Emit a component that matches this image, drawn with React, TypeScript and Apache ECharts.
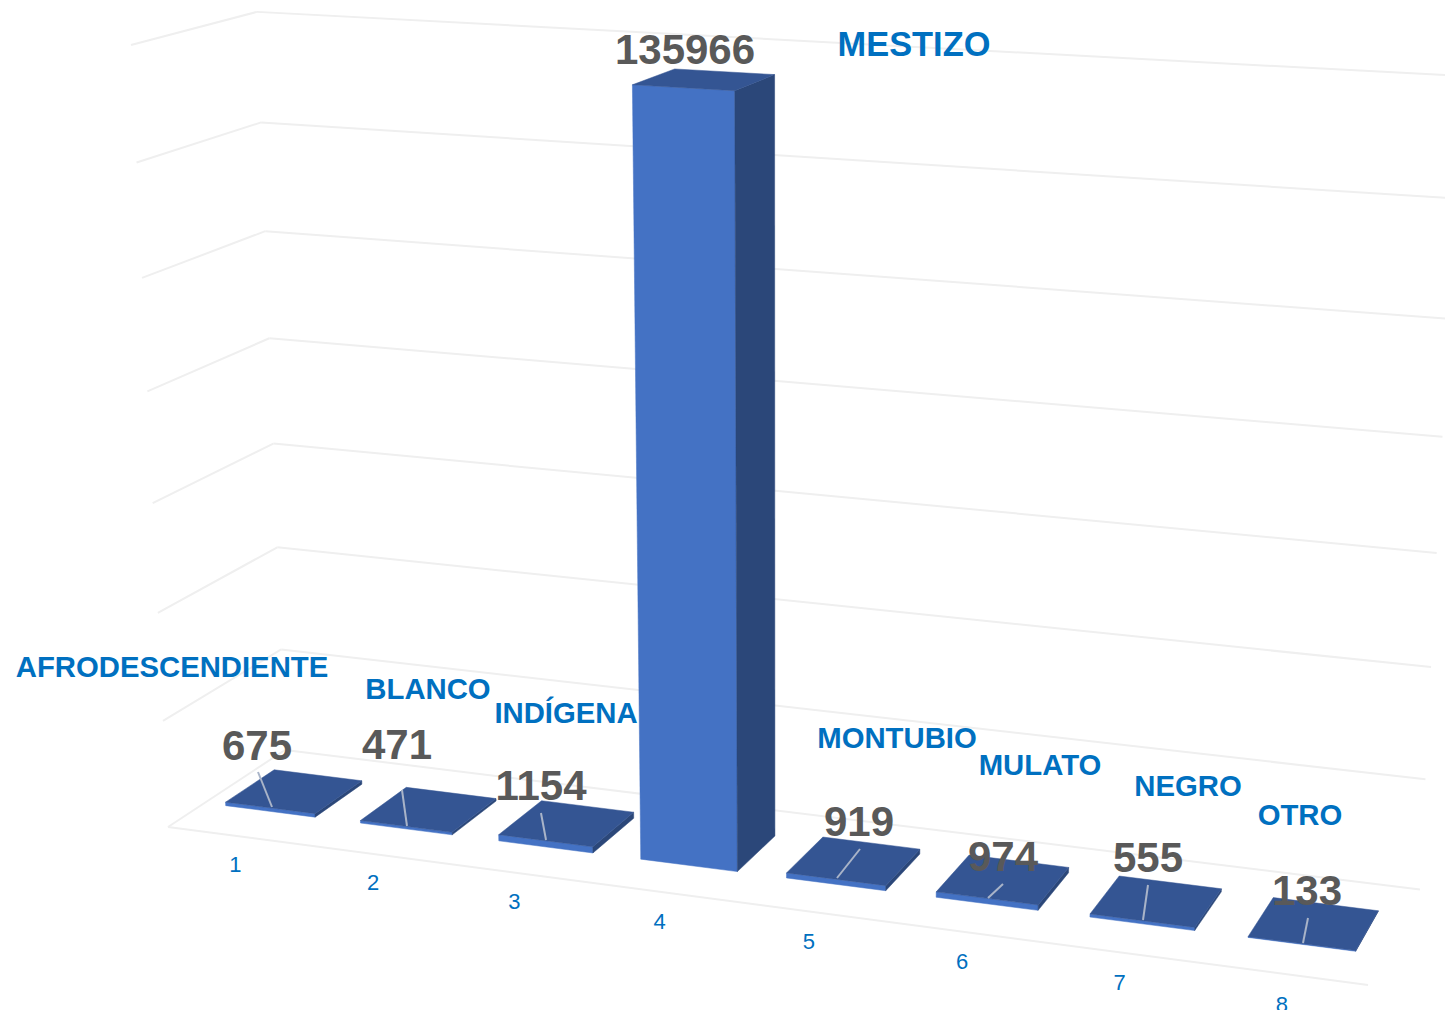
import React, { useEffect, useRef } from "react";
import * as echarts from "echarts";

const categories = ["1", "2", "3", "4", "5", "6", "7", "8"];
const groupNames = ["AFRODESCENDIENTE", "BLANCO", "INDÍGENA", "MESTIZO", "MONTUBIO", "MULATO", "NEGRO", "OTRO"];
const counts = [675, 471, 1154, 135966, 919, 974, 555, 133];
const gridTicks = [0, 20000, 40000, 60000, 80000, 100000, 120000, 140000];

// Text placement (centres in page pixels)
const nameAnchors = [[172, 666], [428, 688], [566, 712], [914, 44], [897, 737], [1040, 764], [1188, 785], [1300, 814]];
const valueAnchors = [[257, 745], [397, 744], [541, 785], [685, 49], [859, 821], [1003, 856], [1148, 857], [1307, 890]];
const leaderLines = [
  [258, 772, 272, 807], [402, 790, 407, 826], [541, 813, 546, 840], null,
  [860, 849, 837, 878], [1003, 884, 988, 898], [1148, 885, 1143, 920], [1308, 918, 1303, 943],
];

// Perspective box: page position of three edges of the plot volume, and their foreshortening
const O = [168, 827];
const U = [1368, 985];
const V = [131, 45];
const W = [285, 750];
const ka = 0.897;
const kb = 0.943;
const kc = 1.062;

function project(u: number, v: number, w: number): number[] {
  const den = 1 + (ka - 1) * u + (kb - 1) * v + (kc - 1) * w;
  return [0, 1].map(
    (i) =>
      (O[i] + u * (ka * U[i] - O[i]) + v * (kb * V[i] - O[i]) + w * (kc * W[i] - O[i])) / den,
  );
}

const BAR_HALF = 0.333; // share of a category band
const BAR_SHIFT = -0.001;
const DEPTH_FRONT = 0.30;
const DEPTH_BACK = 0.72;
const TICK_DEPTH = -0.28;
const TICK_SHIFT = 0.022;
const TICK_SQUEEZE = 0.023;
const TICK_PIVOT = 0.44;

const BLUE = "#0070c0";
const GREY = "#595959";
const FONT = '"Liberation Sans", Arial, sans-serif';
const GRID_COLOR = "#efefef";

function norm(cs: any, pt: number[]) {
  return [(pt[0] - cs.x) / cs.width, (cs.y + cs.height - pt[1]) / cs.height];
}

function line(a: number[], b: number[], color = GRID_COLOR, width = 2) {
  return {
    type: "line",
    shape: { x1: a[0], y1: a[1], x2: b[0], y2: b[1] },
    style: { stroke: color, lineWidth: width, fill: "none" },
  };
}

function poly(points: number[][], fill: string) {
  return { type: "polygon", shape: { points }, style: { fill, stroke: fill, lineWidth: 0.5 } };
}

function text(str: string, x: number, y: number, font: string, fill: string) {
  return {
    type: "text",
    style: { text: str, x, y, font, fill, textAlign: "center", textVerticalAlign: "middle", align: "center", verticalAlign: "middle" },
  };
}

function renderGrid(params: any, api: any) {
  const cs = params.coordSys;
  const value = api.value(0);
  const [, v] = norm(cs, api.coord([0, value]));
  const children: any[] = [
    line(project(0, v, 0), project(0, v, 1)),
    line(project(0, v, 1), project(1, v, 1)),
  ];
  if (value === 0) children.push(line(project(0, 0, 0), project(1, 0, 0)));
  return { type: "group", children };
}

function renderBar(params: any, api: any) {
  const cs = params.coordSys;
  const i = api.value(0);
  const val = api.value(1);
  const [uc, v] = norm(cs, api.coord([i, val]));
  const bandU = api.size([1, 0])[0] / cs.width;
  const u0 = uc + BAR_SHIFT - bandU * BAR_HALF;
  const u1 = uc + BAR_SHIFT + bandU * BAR_HALF;
  const f = DEPTH_FRONT;
  const b = DEPTH_BACK;
  const ftl = project(u0, v, f), ftr = project(u1, v, f), btl = project(u0, v, b), btr = project(u1, v, b);
  const fbl = project(u0, 0, f), fbr = project(u1, 0, f), bbr = project(u1, 0, b);
  return {
    type: "group",
    children: [
      poly([fbl, fbr, ftr, ftl], "#4472c4"),
      poly([fbr, bbr, btr, ftr], "#2b4779"),
      poly([ftl, ftr, btr, btl], "#345593"),
    ],
  };
}

function renderLabels(params: any, api: any) {
  const cs = params.coordSys;
  const i = api.value(0);
  const [uc] = norm(cs, api.coord([i, 0]));
  const tick = project(uc + TICK_SHIFT - (uc - TICK_PIVOT) * TICK_SQUEEZE, 0, TICK_DEPTH);
  const children: any[] = [text(categories[i], tick[0], tick[1], `22px ${FONT}`, BLUE)];
  const l = leaderLines[i];
  if (l) children.push(line([l[0], l[1]], [l[2], l[3]], "#a9b4c8", 2));
  const n = nameAnchors[i];
  const t = valueAnchors[i];
  children.push(text(groupNames[i], n[0], n[1], `bold ${i === 3 ? 34.4 : 29.3}px ${FONT}`, BLUE));
  children.push(text(String(api.value(1)), t[0], t[1], `bold 42px ${FONT}`, GREY));
  return { type: "group", children };
}

export default function App() {
  const ref = useRef<HTMLDivElement>(null);
  useEffect(() => {
    const chart = echarts.init(ref.current!, undefined, { renderer: "svg" });
    chart.setOption({
      animation: false,
      backgroundColor: "#ffffff",
      grid: { left: 100, top: 100, width: 800, height: 800, show: false },
      xAxis: { type: "category", data: categories, show: false },
      yAxis: { type: "value", min: 0, max: 140000, interval: 20000, show: false },
      series: [
        { type: "custom", silent: true, z: 1, data: gridTicks.map((t) => [t]), encode: { y: 0 }, renderItem: renderGrid },
        { type: "custom", silent: true, z: 2, data: counts.map((c, i) => [i, c]), encode: { x: 0, y: 1 }, renderItem: renderBar },
        { type: "custom", silent: true, z: 3, data: counts.map((c, i) => [i, c]), encode: { x: 0, y: 1 }, renderItem: renderLabels },
      ],
    });
    return () => chart.dispose();
  }, []);
  return <div ref={ref} style={{ position: "absolute", left: 0, top: 0, width: 1445, height: 1010 }} />;
}
